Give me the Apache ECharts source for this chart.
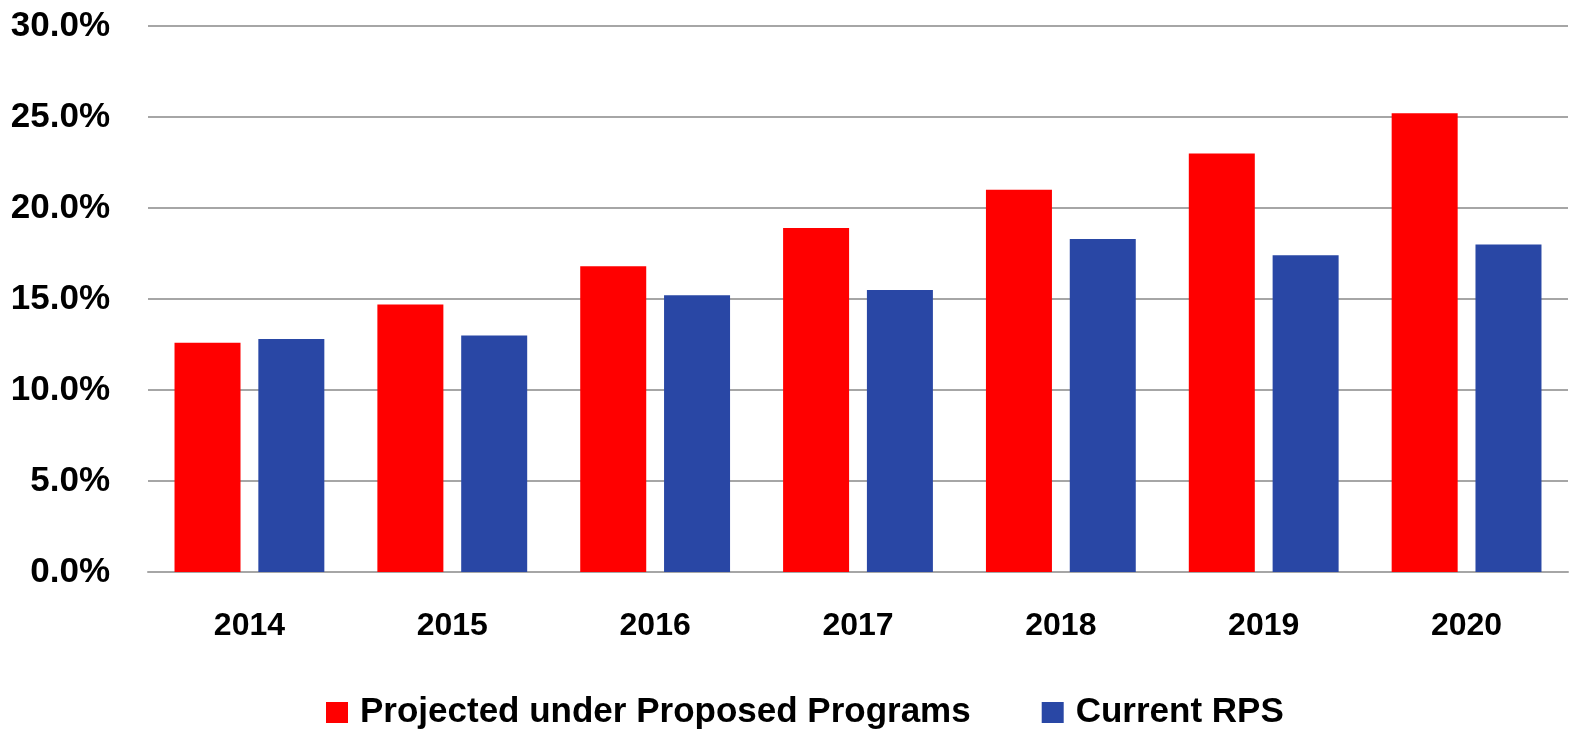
<!DOCTYPE html>
<html>
<head>
<meta charset="utf-8">
<script src="https://cdn.jsdelivr.net/npm/echarts@6/dist/echarts.min.js"></script>
<style>
    html, body { margin: 0; padding: 0; background: #fff; }
    #chart { width: 1573px; height: 730px; }
</style>
</head>
<body>
<div id="chart"></div>
<script>
// 数据
let years = ['2014', '2015', '2016', '2017', '2018', '2019', '2020'];
let projected = [12.6, 14.7, 16.8, 18.9, 21.0, 23.0, 25.2];
let currentRps = [12.8, 13.0, 15.2, 15.5, 18.3, 17.4, 18.0];
let seriesNames = ['Projected under Proposed Programs', 'Current RPS'];
let colors = ['#ff0000', '#2947a5'];

let font = "'Liberation Sans', Arial, sans-serif";

let chart = echarts.init(document.getElementById('chart'));
chart.setOption({
    animation: false,
    color: colors,
    textStyle: { fontFamily: font },
    grid: { left: 148, right: 5, top: 26, bottom: 158, outerBoundsMode: 'none' },
    legend: {
        top: 690,
        left: 321,
        itemWidth: 22,
        itemHeight: 21,
        itemGap: 71,
        icon: 'rect',
        textStyle: { fontSize: 35, fontWeight: 'bold', color: '#000', fontFamily: font, padding: [0, 0, 0, 7] },
        data: seriesNames
    },
    xAxis: {
        type: 'category',
        data: years,
        axisLine: { lineStyle: { color: '#a6a6a6', width: 2 } },
        axisTick: { show: false },
        axisLabel: { margin: 38, fontSize: 32, fontWeight: 'bold', color: '#000', fontFamily: font }
    },
    yAxis: {
        type: 'value',
        min: 0,
        max: 30,
        interval: 5,
        axisLine: { show: false },
        axisTick: { show: false },
        splitLine: { lineStyle: { color: '#a6a6a6', width: 2 } },
        axisLabel: {
            margin: 38,
            fontSize: 35,
            fontWeight: 'bold',
            color: '#000',
            fontFamily: font,
            formatter: v => v.toFixed(1) + '%'
        }
    },
    series: [
        { name: seriesNames[0], data: projected },
        { name: seriesNames[1], data: currentRps }
    ].map(item => Object.assign({
        type: 'bar',
        barWidth: 66,
        barGap: '27%'
    }, item))
});
</script>
</body>
</html>
